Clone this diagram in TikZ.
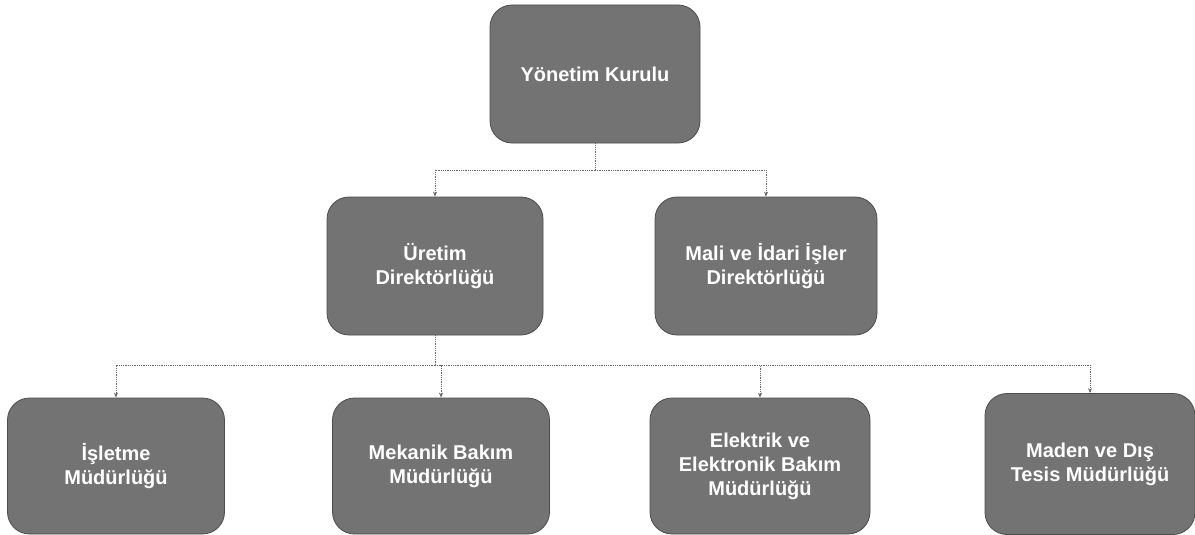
\documentclass[tikz,border=0pt]{standalone}
\usepackage{fontspec}
\setmainfont{Liberation Sans}
\usetikzlibrary{arrows.meta}
\begin{document}
\begin{tikzpicture}[x=1pt,y=-1pt,
  box/.style={draw=black!70, line width=0.8pt, fill=black!55, rounded corners=22pt,
    text=white, font=\fontsize{20}{24}\selectfont\bfseries, align=center, inner sep=0pt},
  conn/.style={draw=black!60, line width=0.8pt, densely dotted, -{Stealth[length=5pt,width=4pt]}},
  link/.style={draw=black!60, line width=0.8pt, densely dotted}]
\useasboundingbox (0,0) rectangle (1195,535);
\node[box, minimum width=210pt, minimum height=138pt] (top) at (595,74) {Yönetim Kurulu};
\node[box, minimum width=216pt, minimum height=138pt] (uret) at (435,266) {Üretim\\Direktörlüğü};
\node[box, minimum width=222pt, minimum height=138pt] (mali) at (766,266) {Mali ve İdari İşler\\Direktörlüğü};
\node[box, minimum width=217pt, minimum height=136pt] (isl) at (116,466) {İşletme\\Müdürlüğü};
\node[box, minimum width=217pt, minimum height=136pt] (mek) at (441,466) {Mekanik Bakım\\Müdürlüğü};
\node[box, minimum width=220pt, minimum height=136pt] (elk) at (760,466) {Elektrik ve\\Elektronik Bakım\\Müdürlüğü};
\node[box, minimum width=210pt, minimum height=141pt] (mad) at (1090,464) {Maden ve Dış\\Tesis Müdürlüğü};
\coordinate (b1) at (595,170);
\coordinate (b2) at (435,365);
\draw[link] (top.south) -- (b1);
\draw[conn] (b1) -| (uret.north);
\draw[conn] (b1) -| (mali.north);
\draw[link] (uret.south) -- (b2);
\draw[conn] (b2) -| (isl.north);
\draw[conn] (b2) -| (mek.north);
\draw[conn] (b2) -| (elk.north);
\draw[conn] (b2) -| (mad.north);
\end{tikzpicture}
\end{document}
